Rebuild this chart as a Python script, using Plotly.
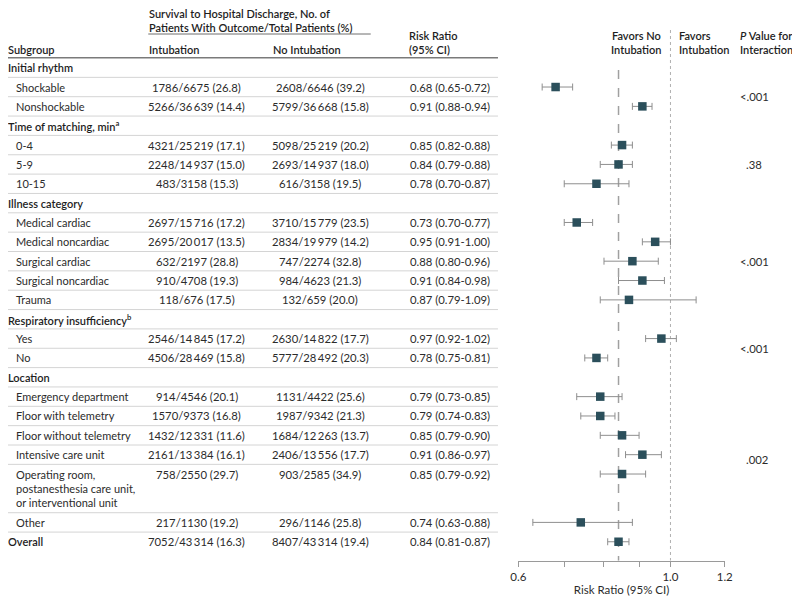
import math
import plotly.graph_objects as go

# ---------------- data ----------------
labels = ["Initial rhythm", "Shockable", "Nonshockable",
          "Time of matching, min<sup>a</sup>", "0-4", "5-9", "10-15",
          "Illness category", "Medical cardiac", "Medical noncardiac", "Surgical cardiac",
          "Surgical noncardiac", "Trauma",
          "Respiratory insufficiency<sup>b</sup>", "Yes", "No",
          "Location", "Emergency department", "Floor with telemetry", "Floor without telemetry",
          "Intensive care unit",
          "Operating room,|postanesthesia care unit,|or interventional unit",
          "Other", "Overall"]
level = [0, 1, 1, 0, 1, 1, 1, 0, 1, 1, 1, 1, 1, 0, 1, 1, 0, 1, 1, 1, 1, 1, 1, 2]

intub_events = [None, 1786, 5266, None, 4321, 2248, 483, None, 2697, 2695, 632, 910, 118,
                None, 2546, 4506, None, 914, 1570, 1432, 2161, 758, 217, 7052]
intub_total = [None, 6675, 36639, None, 25219, 14937, 3158, None, 15716, 20017, 2197, 4708, 676,
               None, 14845, 28469, None, 4546, 9373, 12331, 13384, 2550, 1130, 43314]
intub_pct = [None, 26.8, 14.4, None, 17.1, 15.0, 15.3, None, 17.2, 13.5, 28.8, 19.3, 17.5,
             None, 17.2, 15.8, None, 20.1, 16.8, 11.6, 16.1, 29.7, 19.2, 16.3]

noint_events = [None, 2608, 5799, None, 5098, 2693, 616, None, 3710, 2834, 747, 984, 132,
                None, 2630, 5777, None, 1131, 1987, 1684, 2406, 903, 296, 8407]
noint_total = [None, 6646, 36668, None, 25219, 14937, 3158, None, 15779, 19979, 2274, 4623, 659,
               None, 14822, 28492, None, 4422, 9342, 12263, 13556, 2585, 1146, 43314]
noint_pct = [None, 39.2, 15.8, None, 20.2, 18.0, 19.5, None, 23.5, 14.2, 32.8, 21.3, 20.0,
             None, 17.7, 20.3, None, 25.6, 21.3, 13.7, 17.7, 34.9, 25.8, 19.4]

rr = [None, 0.68, 0.91, None, 0.85, 0.84, 0.78, None, 0.73, 0.95, 0.88, 0.91, 0.87,
      None, 0.97, 0.78, None, 0.79, 0.79, 0.85, 0.91, 0.85, 0.74, 0.84]
rr_lo = [None, 0.65, 0.88, None, 0.82, 0.79, 0.70, None, 0.70, 0.91, 0.80, 0.84, 0.79,
         None, 0.92, 0.75, None, 0.73, 0.74, 0.79, 0.86, 0.79, 0.63, 0.81]
rr_hi = [None, 0.72, 0.94, None, 0.88, 0.88, 0.87, None, 0.77, 1.00, 0.96, 0.98, 1.09,
         None, 1.02, 0.81, None, 0.85, 0.83, 0.90, 0.97, 0.92, 0.88, 0.87]

# P values for interaction: (first row, last row, text)
p_groups = [(1, 2, "<.001"), (4, 6, ".38"), (8, 12, "<.001"), (14, 15, "<.001"), (17, 22, ".002")]

axis_ticks = [0.6, 1.0, 1.2]
axis_ticktext = ["0.6", "1.0", "1.2"]
axis_minor_ticks = [0.7, 0.8, 0.9]

# ---------------- layout helpers ----------------
W, H = 800, 603
FONT = "Lato"
ROW = 19.35          # px per row (screen)
Y0 = 58.0            # screen px of top of first row
AXB = 560.7          # screen px of x-axis line
OX, SXS = 18.0, 782.4   # screen x of paper 0, paper width in screen px
OY = 8.0                # screen y of paper top

row_h = [2.5 if "|" in l else 1.0 for l in labels]
tops = []
acc = 0.0
for h in row_h:
    tops.append(acc)
    acc += h

def pxx(x):
    return (x - OX) / SXS

def pyp(p):
    return 1 - (p - OY) / H

TXT = "#2b2b2b"
HDR = "#1e1e1e"
SEP = "#d4d4d4"
MARK = "#2b4f5b"
ERR = "#8e8e8e"

def fmt(n):
    return f"{n:,}".replace(",", "\u2009") if n >= 10000 else str(n)

fig = go.Figure()

ybot = (AXB - Y0) / ROW
overall_rr = rr[-1]
# reference line at overall estimate (dashed) and line of no effect (dotted)
fig.add_trace(go.Scatter(x=[overall_rr, overall_rr], y=[(70 - Y0) / ROW, ybot], mode="lines",
                         line=dict(color="#a0a0a0", width=1.5, dash="dash"), hoverinfo="skip"))
fig.add_trace(go.Scatter(x=[1.0, 1.0], y=[(30 - Y0) / ROW, ybot], mode="lines",
                         line=dict(color="#b0b0b0", width=1, dash="dot"), hoverinfo="skip",
                         cliponaxis=False))

# forest plot points
idx = [i for i in range(len(labels)) if rr[i] is not None]
fig.add_trace(go.Scatter(
    x=[rr[i] for i in idx], y=[tops[i] + 0.5 for i in idx], mode="markers",
    marker=dict(symbol="square", size=8.5, color=MARK),
    error_x=dict(type="data", symmetric=False,
                 array=[rr_hi[i] - rr[i] for i in idx],
                 arrayminus=[rr[i] - rr_lo[i] for i in idx],
                 color=ERR, thickness=1, width=3.5),
    hoverinfo="skip", cliponaxis=False))

ann = []

def A(x, y, text, anchor="left", size=11.0, color=TXT, weight=400, yref="y"):
    ann.append(dict(x=pxx(x), y=y, xref="paper", yref=yref, text=text, showarrow=False,
                    xanchor=anchor, yanchor="middle", borderpad=0,
                    font=dict(family=FONT, size=size, color=color, weight=weight)))

LX0 = 8.8   # left edge of group labels
LX1 = 17    # left edge of indented labels

# header
HS = 11.0
HW = 600
for x, y, t, anc in [
    (150, 13.6, "Survival to Hospital Discharge, No. of", "left"),
    (150, 27.6, "Patients With Outcome/Total Patients (%)", "left"),
    (LX0, 49.3, "Subgroup", "left"),
    (150, 49.3, "Intubation", "left"),
    (273, 49.3, "No Intubation", "left"),
    (409, 35, "Risk Ratio", "left"),
    (409, 49.3, "(95% CI)", "left"),
    (663, 35, "Favors No", "right"),
    (663, 49.3, "Intubation", "right"),
    (679, 35, "Favors", "left"),
    (679, 49.3, "Intubation", "left"),
    (740, 35, "<i>P</i> Value for", "left"),
    (740, 49.3, "Interaction", "left"),
]:
    A(x, pyp(y), t, anchor=anc, weight=HW, color=HDR, size=HS, yref="paper")

# rows
NS = 11.3
for i, lab in enumerate(labels):
    yc = tops[i] + 0.5
    lx = LX1 if level[i] == 1 else LX0
    wt = 400 if level[i] == 1 else HW
    col = TXT if level[i] == 1 else HDR
    for k, part in enumerate(lab.split("|")):
        A(lx, yc + k * 14.2 / ROW, part, weight=wt, color=col)
    if rr[i] is not None:
        A(198.5, yc, f"{intub_events[i]}/{fmt(intub_total[i])} ({intub_pct[i]:.1f})", anchor="center", size=NS)
        A(321.5, yc, f"{noint_events[i]}/{fmt(noint_total[i])} ({noint_pct[i]:.1f})", anchor="center", size=NS)
        A(451, yc, f"{rr[i]:.2f} ({rr_lo[i]:.2f}-{rr_hi[i]:.2f})", anchor="center", size=NS)

for a, b, t in p_groups:
    ym = (tops[a] + tops[b] + row_h[b]) / 2
    A(740 if t.startswith("<") else 746, ym, t, size=11.3)

shapes = []
# header rules
shapes.append(dict(type="line", xref="paper", yref="paper", x0=pxx(150), x1=pxx(372),
                   y0=pyp(34), y1=pyp(34), line=dict(color="#6e6e6e", width=1)))
shapes.append(dict(type="line", xref="paper", yref="paper", x0=pxx(8), x1=pxx(499),
                   y0=pyp(57.7), y1=pyp(57.7), line=dict(color="#7a7a7a", width=1.5)))
# row separators
for i in range(1, len(labels)):
    shapes.append(dict(type="line", xref="paper", yref="y", x0=pxx(8), x1=pxx(499),
                       y0=tops[i], y1=tops[i], line=dict(color=SEP, width=1)))

tick_style = dict(ticks="outside", ticklen=5, tickcolor="#9a9a9a", tickwidth=1.2)
fig.update_layout(
    width=W, height=H, margin=dict(l=0, r=0, t=0, b=0),
    paper_bgcolor="white", plot_bgcolor="white", showlegend=False,
    annotations=ann, shapes=shapes,
    xaxis=dict(type="log", domain=[pxx(519.3), pxx(725.3)],
               range=[math.log10(0.6), math.log10(1.2)],
               tickvals=axis_ticks, ticktext=axis_ticktext,
               minor=dict(tickvals=axis_minor_ticks, showgrid=False, **tick_style),
               showline=True, linecolor="#9a9a9a", linewidth=1.2,
               showgrid=False, zeroline=False,
               tickfont=dict(family=FONT, size=11.5, color=TXT),
               title=dict(text="Risk Ratio (95% CI)", standoff=2,
                          font=dict(family=FONT, size=11.5, color=TXT)),
               **tick_style),
    yaxis=dict(visible=False, domain=[1 - (AXB - OY) / H, 1],
               range=[(AXB - Y0) / ROW, -(Y0 - OY) / ROW]),
)

fig.write_html("out.html")
